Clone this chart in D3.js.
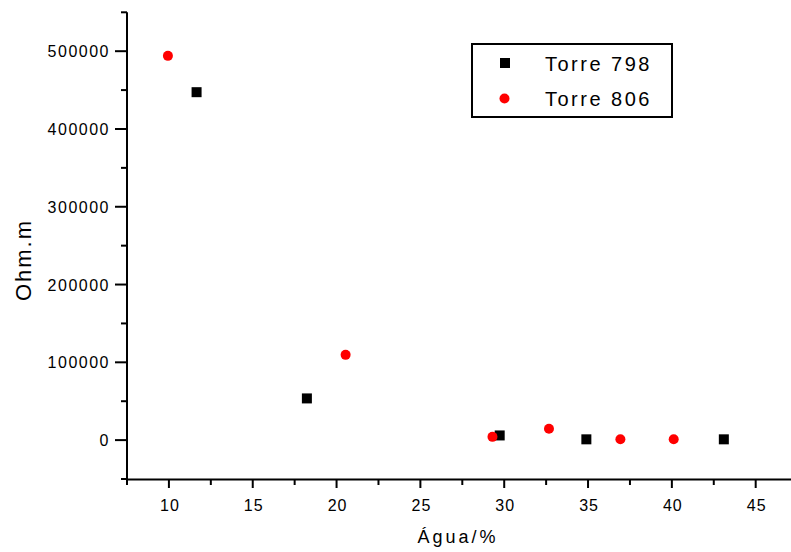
<!DOCTYPE html>
<html><head><meta charset="utf-8">
<script src="https://cdn.jsdelivr.net/npm/d3@7"></script>
<style>html,body{margin:0;padding:0;background:#fff;overflow:hidden}</style>
</head><body>
<svg id="c" width="791" height="552"></svg>
<script>
const xTicks = [10, 15, 20, 25, 30, 35, 40, 45];
const yTicks = [0, 100000, 200000, 300000, 400000, 500000];
const torre798X = [11.65, 18.23, 29.73, 34.9, 43.1];
const torre798Y = [447300, 53600, 6000, 1000, 1000];
const torre806X = [9.94, 20.54, 29.3, 32.67, 36.93, 40.11];
const torre806Y = [494000, 109600, 4200, 14500, 1000, 1000];
const seriesNames = ["Torre 798", "Torre 806"];

const svg = d3.select("#c");
const x = d3.scaleLinear().domain([7.5, 47.5]).range([127, 797.6]);
const y = d3.scaleLinear().domain([-50000, 550000]).range([479, 12.3]);
const font = "'Liberation Sans', Arial, sans-serif";

// axes lines
svg.append("line").attr("x1", 127).attr("x2", 127).attr("y1", y(550000)).attr("y2", 479)
  .attr("stroke", "#000").attr("stroke-width", 2);
svg.append("line").attr("x1", 126).attr("x2", 791).attr("y1", 479.5).attr("y2", 479.5)
  .attr("stroke", "#000").attr("stroke-width", 2);

// y ticks
const yMinor = d3.range(-50000, 550001, 50000);
yMinor.forEach(v => {
  const major = yTicks.includes(v);
  svg.append("line").attr("x1", major ? 115 : 121).attr("x2", 127)
    .attr("y1", y(v)).attr("y2", y(v)).attr("stroke", "#000").attr("stroke-width", 2);
});
yTicks.forEach(v => {
  svg.append("text").attr("x", 110).attr("y", y(v) + 6).attr("text-anchor", "end")
    .attr("font-family", font).attr("font-size", 16).attr("letter-spacing", 1.5)
    .text(v);
});

// x ticks
d3.range(7.5, 47.6, 2.5).forEach(v => {
  const major = xTicks.includes(v);
  svg.append("line").attr("x1", x(v)).attr("x2", x(v)).attr("y1", 479)
    .attr("y2", major ? 488 : 485).attr("stroke", "#000").attr("stroke-width", 2);
});
xTicks.forEach(v => {
  svg.append("text").attr("x", x(v) + 1).attr("y", 511).attr("text-anchor", "middle")
    .attr("font-family", font).attr("font-size", 16).attr("letter-spacing", 1)
    .text(v);
});

// axis titles
svg.append("text").attr("x", 458).attr("y", 543).attr("text-anchor", "middle")
  .attr("font-family", font).attr("font-size", 18).attr("letter-spacing", 3)
  .text("Água/%");
svg.append("text").attr("transform", "translate(31,260) rotate(-90)").attr("text-anchor", "middle")
  .attr("font-family", font).attr("font-size", 22).attr("letter-spacing", 2)
  .text("Ohm.m");

// data
const s = 10;
svg.selectAll("rect.p798").data(torre798X.map((d, i) => [d, torre798Y[i]])).enter()
  .append("rect").attr("x", d => x(d[0]) - s / 2).attr("y", d => y(d[1]) - s / 2)
  .attr("width", s).attr("height", s).attr("fill", "#000");
svg.selectAll("circle.p806").data(torre806X.map((d, i) => [d, torre806Y[i]])).enter()
  .append("circle").attr("cx", d => x(d[0])).attr("cy", d => y(d[1]))
  .attr("r", 5).attr("fill", "#ff0000");

// legend
svg.append("rect").attr("x", 472).attr("y", 44).attr("width", 200).attr("height", 73)
  .attr("fill", "#fff").attr("stroke", "#000").attr("stroke-width", 2);
svg.append("rect").attr("x", 505 - s / 2).attr("y", 63 - s / 2).attr("width", s).attr("height", s).attr("fill", "#000");
svg.append("circle").attr("cx", 504.5).attr("cy", 98.5).attr("r", 5).attr("fill", "#ff0000");
seriesNames.forEach((n, i) => {
  svg.append("text").attr("x", 545).attr("y", 71 + i * 35)
    .attr("font-family", font).attr("font-size", 20).attr("letter-spacing", 2.5)
    .text(n);
});
</script>
</body></html>
